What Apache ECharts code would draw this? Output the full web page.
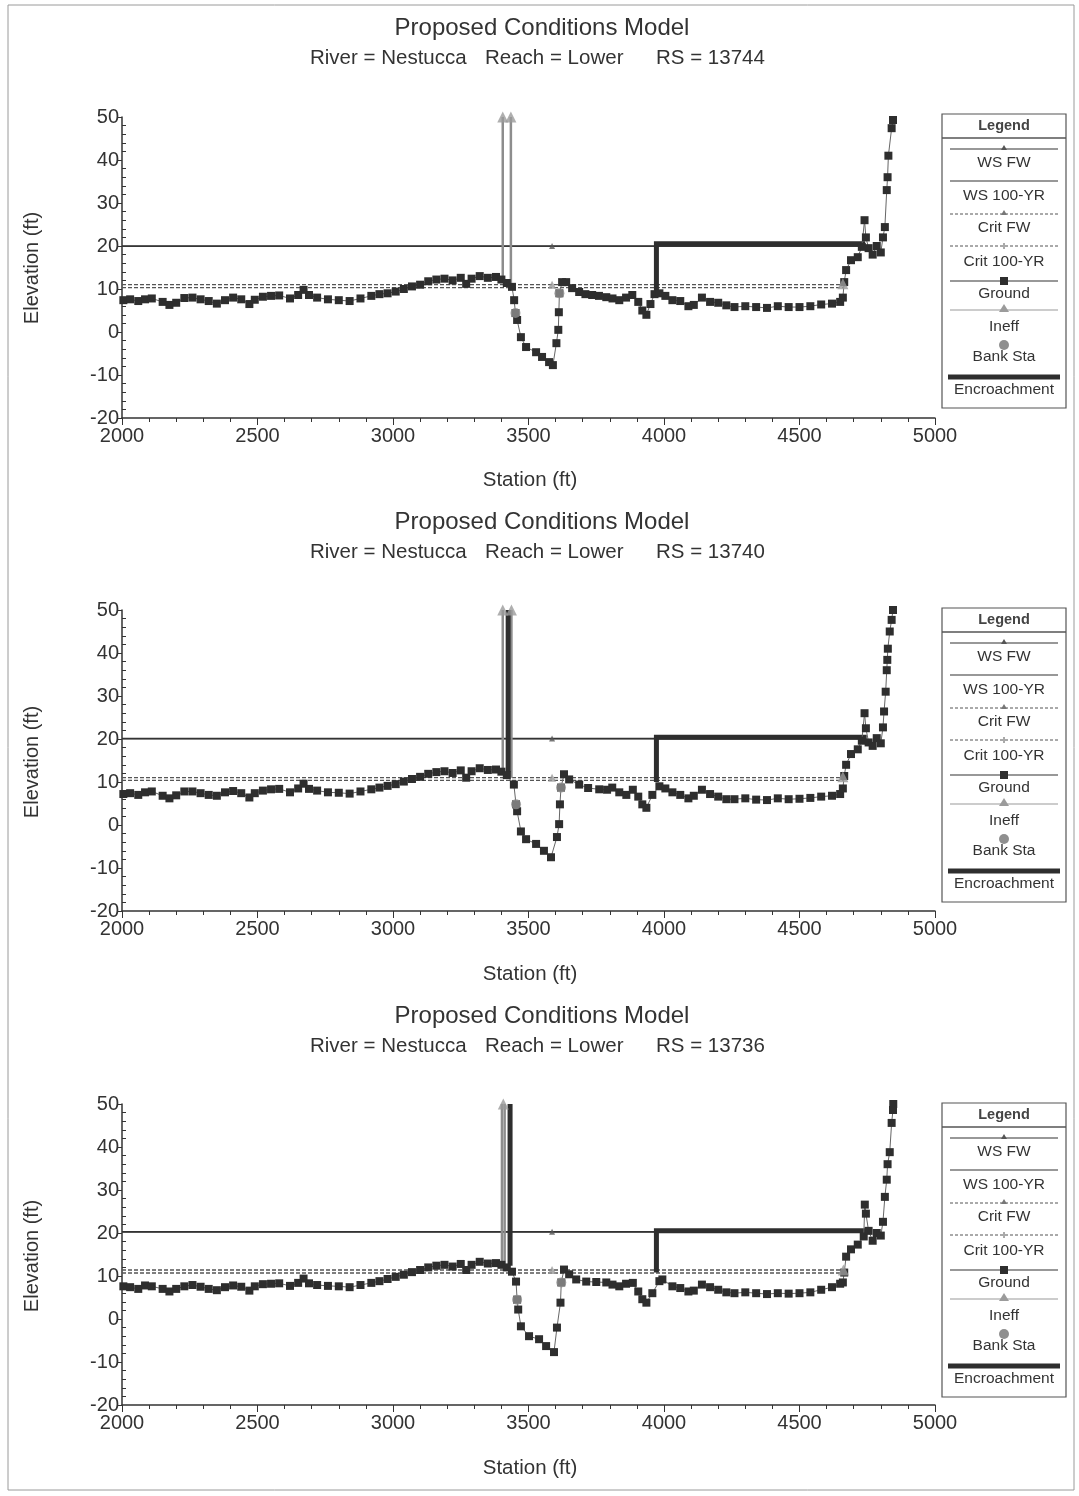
<!DOCTYPE html>
<html><head><meta charset="utf-8">
<script src="https://cdn.jsdelivr.net/npm/echarts@6/dist/echarts.min.js"></script>
<style>html,body{margin:0;padding:0;background:#fff}#c{width:1079px;height:1496px}</style>
</head><body><div id="c"></div>
<script>
// ---------- data ----------
const xMin = 2000, xMax = 5000, xStep = 500;
const yMin = -20, yMax = 50, yStep = 10;
const chartTitle = 'Proposed Conditions Model';
const riverText = 'River = Nestucca';
const reachText = 'Reach = Lower';
const rsValues = ['13744', '13740', '13736'];
const legendNames = ['WS FW', 'WS 100-YR', 'Crit FW', 'Crit 100-YR', 'Ground', 'Ineff', 'Bank Sta', 'Encroachment'];

const ground1 = [[2005,7.4],[2030,7.6],[2060,7.2],[2085,7.6],[2110,7.8],[2150,7.0],[2175,6.3],[2200,6.8],[2230,7.9],[2260,8.0],
 [2290,7.6],[2320,7.2],[2350,6.6],[2380,7.4],[2410,8.0],[2440,7.6],[2470,6.5],[2490,7.5],[2520,8.2],[2550,8.4],
 [2580,8.5],[2620,7.8],[2650,8.6],[2670,9.8],[2690,8.6],[2720,8.0],[2760,7.6],[2800,7.4],[2840,7.2],[2880,7.8],
 [2920,8.4],[2950,8.8],[2980,9.0],[3010,9.4],[3040,10.0],[3070,10.6],[3100,11.0],[3130,11.8],[3160,12.2],[3190,12.4],
 [3220,12.0],[3250,12.6],[3270,11.2],[3290,12.4],[3320,13.0],[3350,12.6],[3380,12.8],[3400,12.2],[3420,11.4],[3439,10.5],
 [3447,7.4],[3452,4.4],[3458,2.8],[3472,-1.2],[3491,-3.5],[3528,-4.7],[3550,-5.8],[3576,-7.0],[3590,-7.7],[3603,-2.6],
 [3610,0.5],[3612,4.6],[3614,9.0],[3624,11.6],[3639,11.6],[3661,10.2],[3687,9.3],[3710,8.8],[3735,8.6],[3760,8.4],[3787,8.1],
 [3810,7.8],[3835,7.4],[3860,8.0],[3883,8.6],[3905,7.0],[3920,5.0],[3935,4.0],[3950,6.5],[3965,8.8],[3983,9.0],[4005,8.4],
 [4031,7.4],[4060,7.2],[4090,6.0],[4110,6.3],[4140,8.0],[4170,7.0],[4200,6.8],[4230,6.2],[4260,5.8],[4300,6.0],
 [4340,5.8],[4380,5.6],[4420,6.0],[4460,5.8],[4500,5.8],[4540,6.0],[4580,6.4],[4620,6.6],[4650,7.0],[4660,8.0],
 [4665,11.6],[4672,14.4],[4690,16.7],[4715,17.4],[4730,19.8],[4740,26.0],[4745,22.0],[4755,19.5],[4770,18.0],[4785,20.0],
 [4800,18.5],[4808,22.0],[4815,24.4],[4822,33.0],[4825,36.0],[4828,41.0],[4840,47.4],[4845,49.3]];

const ground2 = [[2005,7.2],[2030,7.4],[2060,7.0],[2085,7.6],[2110,7.8],[2150,6.8],[2175,6.2],[2200,6.9],[2230,7.8],[2260,7.8],
 [2290,7.4],[2320,7.0],[2350,6.8],[2380,7.6],[2410,7.9],[2440,7.4],[2470,6.4],[2490,7.4],[2520,8.0],[2550,8.3],
 [2580,8.4],[2620,7.6],[2650,8.5],[2670,9.6],[2690,8.4],[2720,8.0],[2760,7.6],[2800,7.5],[2840,7.3],[2880,7.8],
 [2920,8.3],[2950,8.7],[2980,9.1],[3010,9.5],[3040,10.1],[3070,10.7],[3100,11.2],[3130,11.9],[3160,12.3],[3190,12.5],
 [3220,12.1],[3250,12.7],[3270,11.0],[3290,12.5],[3320,13.2],[3350,12.8],[3380,12.9],[3400,12.4],[3420,11.6],[3446,9.4],
 [3454,4.8],[3458,3.2],[3472,-1.5],[3491,-3.3],[3528,-4.4],[3557,-6.0],[3583,-7.5],[3605,-2.8],[3613,0.2],[3616,4.8],
 [3620,8.7],[3631,11.8],[3650,10.6],[3687,9.4],[3720,8.6],[3761,8.3],[3790,8.2],[3809,8.7],[3835,7.6],[3861,7.0],
 [3885,8.2],[3905,6.6],[3920,4.8],[3935,4.0],[3957,7.0],[3983,9.0],[4005,8.5],[4031,7.6],[4060,7.0],[4090,6.2],
 [4110,6.8],[4140,8.2],[4170,7.2],[4200,6.6],[4230,6.0],[4260,6.0],[4300,6.2],[4340,5.9],[4380,5.8],[4420,6.2],
 [4460,6.0],[4500,6.1],[4540,6.3],[4580,6.6],[4620,6.8],[4650,7.2],[4660,8.5],[4665,11.4],[4672,14.0],[4690,16.5],
 [4715,17.6],[4730,19.6],[4740,26.0],[4745,22.5],[4755,19.2],[4770,18.4],[4785,20.2],[4800,19.0],[4808,22.7],[4812,26.4],
 [4818,31.0],[4822,36.0],[4824,38.4],[4826,41.0],[4833,45.0],[4840,47.7],[4845,50.0]];

const ground3 = [[2005,7.6],[2030,7.4],[2060,7.0],[2085,7.8],[2110,7.6],[2150,7.0],[2175,6.4],[2200,7.0],[2230,7.6],[2260,7.9],
 [2290,7.5],[2320,7.0],[2350,6.7],[2380,7.4],[2410,7.8],[2440,7.5],[2470,6.6],[2490,7.6],[2520,8.1],[2550,8.2],
 [2580,8.3],[2620,7.7],[2650,8.4],[2670,9.4],[2690,8.3],[2720,7.9],[2760,7.7],[2800,7.6],[2840,7.4],[2880,7.9],
 [2920,8.4],[2950,8.8],[2980,9.3],[3010,9.8],[3040,10.3],[3070,10.9],[3100,11.4],[3130,12.0],[3160,12.4],[3190,12.6],
 [3220,12.2],[3250,12.8],[3270,11.4],[3290,12.6],[3320,13.3],[3350,12.9],[3380,13.0],[3400,12.6],[3420,12.0],[3439,11.0],
 [3454,8.7],[3458,4.5],[3462,2.2],[3472,-1.7],[3502,-4.0],[3539,-4.7],[3565,-6.3],[3594,-7.7],[3605,-2.0],[3618,3.8],
 [3621,8.5],[3631,11.5],[3650,10.4],[3676,9.2],[3713,8.7],[3750,8.6],[3787,8.5],[3810,8.0],[3835,7.6],[3860,8.2],
 [3885,8.4],[3905,6.4],[3920,4.6],[3935,3.8],[3957,6.0],[3983,8.8],[3994,9.2],[4031,7.6],[4060,7.2],[4090,6.4],
 [4110,6.6],[4140,8.0],[4170,7.4],[4200,6.8],[4230,6.2],[4260,6.0],[4300,6.2],[4340,6.0],[4380,5.8],[4420,6.0],
 [4460,5.9],[4500,6.0],[4540,6.2],[4580,6.8],[4620,7.4],[4650,8.2],[4660,8.5],[4665,10.8],[4672,14.5],[4690,16.2],
 [4715,17.3],[4737,19.2],[4741,26.6],[4745,24.5],[4755,20.5],[4770,18.2],[4785,20.0],[4800,19.4],[4808,22.6],[4815,28.4],
 [4822,32.4],[4825,36.0],[4833,38.8],[4840,45.6],[4845,48.6],[4846,50.0]];

const wsFWElev = [20.0, 20.1, 20.3];
const ws100Elev = [19.9, 20.0, 20.2];
const wsEnd = [4735, 4738, 4740];
const critFWElev = [11.0, 11.0, 11.4];
const crit100Elev = [10.3, 10.4, 10.7];
const critEnd = [4660, 4660, 4662];
const markerStation = 3587;
const bankSta1 = [[3452,4.4],[3614,9.0]];
const bankSta2 = [[3454,4.8],[3620,8.7]];
const bankSta3 = [[3458,4.5],[3621,8.5]];
const encroachRight1 = [[3972,9.0],[3972,20.5],[4742,20.5]];
const encroachRight2 = [[3972,10.0],[3972,20.4],[4748,20.4]];
const encroachRight3 = [[3972,10.8],[3972,20.5],[4750,20.5]];
const encroachLeft1 = [];
const encroachLeft2 = [[3425,12.3],[3425,50]];
const encroachLeft3 = [[3432,12.4],[3432,50]];
const ineffLines1 = [[[3405,12.4],[3405,50]],[[3435,11.0],[3435,50]]];
const ineffLines2 = [[[3405,12.4],[3405,50]],[[3437,11.0],[3437,50]]];
const ineffLines3 = [[[3402,12.5],[3402,50]],[[3412,12.3],[3412,50]]];
const ineffPoints1 = [[3405,50],[3435,50],[4660,11.2]];
const ineffPoints2 = [[3405,50],[3437,50],[4660,11.2]];
const ineffPoints3 = [[3407,50],[4662,11.4]];

const grounds = [ground1, ground2, ground3];
const banks = [bankSta1, bankSta2, bankSta3];
const encR = [encroachRight1, encroachRight2, encroachRight3];
const encL = [encroachLeft1, encroachLeft2, encroachLeft3];
const ineffL = [ineffLines1, ineffLines2, ineffLines3];
const ineffP = [ineffPoints1, ineffPoints2, ineffPoints3];

// ---------- layout ----------
const FONT = '"Liberation Sans", Arial, sans-serif';
const gridTops = [117, 610, 1104];
const panelOffsets = [0, 494, 988];
const legendTops = [114, 608, 1103];
const DARK = '#2e2e2e', GREY = '#8d8d8d';

const grids = [], xAxes = [], yAxes = [], series = [], graphics = [];
graphics.push({type:'rect', shape:{x:8, y:5, width:1066, height:1485}, style:{fill:'none', stroke:'#9a9a9a', lineWidth:1}});

for (let i = 0; i < 3; i++) {
  grids.push({left:122, right:144, top:gridTops[i], height:301});
  xAxes.push({type:'value', gridIndex:i, min:xMin, max:xMax, interval:xStep,
    axisLine:{show:true, onZero:false, lineStyle:{color:'#333', width:1.5}},
    axisTick:{show:true, length:7, lineStyle:{color:'#333'}},
    minorTick:{show:true, splitNumber:5, length:4, lineStyle:{color:'#333'}},
    splitLine:{show:false},
    axisLabel:{color:'#333', fontSize:20, fontFamily:FONT, margin:8, formatter: v => String(v)}});
  yAxes.push({type:'value', gridIndex:i, min:yMin, max:yMax, interval:yStep, position:'left',
    axisLine:{show:true, onZero:false, lineStyle:{color:'#333', width:1.5}},
    axisTick:{show:true, length:5, lineStyle:{color:'#333'}},
    splitLine:{show:false},
    axisLabel:{color:'#333', fontSize:20, fontFamily:FONT, margin:3, formatter: v => String(v)}});
  yAxes.push({type:'value', gridIndex:i, min:yMin, max:yMax, interval:yStep, position:'left', offset:0,
    axisLine:{show:false}, axisLabel:{show:false},
    axisTick:{show:false, inside:true},
    minorTick:{show:true, splitNumber:5, length:4, lineStyle:{color:'#333'}},
    splitLine:{show:false}});

  const xi = i, yi = 2*i;
  const base = {xAxisIndex:xi, yAxisIndex:yi, animation:false, silent:true};
  series.push(Object.assign({type:'line', data:[[xMin, ws100Elev[i]],[wsEnd[i], ws100Elev[i]]], symbol:'none',
    lineStyle:{color:'#444', width:1.2}, z:3}, base));
  series.push(Object.assign({type:'line', data:[[xMin, wsFWElev[i]],[wsEnd[i], wsFWElev[i]]], symbol:'none',
    lineStyle:{color:'#333', width:1.4}, z:3}, base));
  series.push(Object.assign({type:'scatter', data:[[markerStation, wsFWElev[i]]], symbol:'triangle', symbolSize:6,
    itemStyle:{color:'#555'}, z:4}, base));
  series.push(Object.assign({type:'line', data:[[xMin, critFWElev[i]],[critEnd[i], critFWElev[i]]], symbol:'none',
    lineStyle:{color:'#555', width:1.3, type:[4,2]}, z:3}, base));
  series.push(Object.assign({type:'line', data:[[xMin, crit100Elev[i]],[critEnd[i], crit100Elev[i]]], symbol:'none',
    lineStyle:{color:'#555', width:1.3, type:[4,2]}, z:3}, base));
  series.push(Object.assign({type:'scatter', data:[[markerStation, critFWElev[i]]], symbol:'triangle', symbolSize:8,
    itemStyle:{color:'#9a9a9a'}, z:4}, base));
  ineffL[i].forEach(seg => series.push(Object.assign({type:'line', data:seg, symbol:'none',
    lineStyle:{color:GREY, width:2.5}, z:5}, base)));
  if (encL[i].length) series.push(Object.assign({type:'line', data:encL[i], symbol:'none',
    lineStyle:{color:DARK, width:5}, z:6}, base));
  series.push(Object.assign({type:'line', data:encR[i], symbol:'none',
    lineStyle:{color:DARK, width:5, join:'miter'}, z:6}, base));
  series.push(Object.assign({type:'line', data:grounds[i], symbol:'rect', symbolSize:8, showAllSymbol:true,
    lineStyle:{color:'#666', width:1}, itemStyle:{color:DARK}, z:7}, base));
  series.push(Object.assign({type:'scatter', data:ineffP[i], symbol:'triangle', symbolSize:11,
    itemStyle:{color:'#9b9b9b'}, z:8, clip:false}, base));
  series.push(Object.assign({type:'scatter', data:banks[i], symbol:'circle', symbolSize:10,
    itemStyle:{color:'#8f8f8f'}, z:9}, base));

  const o = panelOffsets[i];
  graphics.push({type:'text', x:542, y:28+o, style:{text:chartTitle, font:'24px '+FONT, fill:'#333', align:'center', verticalAlign:'middle'}});
  graphics.push({type:'text', x:310, y:58+o, style:{text:riverText, font:'20.5px '+FONT, fill:'#333', align:'left', verticalAlign:'middle'}});
  graphics.push({type:'text', x:485, y:58+o, style:{text:reachText, font:'20.5px '+FONT, fill:'#333', align:'left', verticalAlign:'middle'}});
  graphics.push({type:'text', x:656, y:58+o, style:{text:'RS = ' + rsValues[i], font:'20.5px '+FONT, fill:'#333', align:'left', verticalAlign:'middle'}});
  graphics.push({type:'text', x:530, y:480+o, style:{text:'Station (ft)', font:'20.5px '+FONT, fill:'#333', align:'center', verticalAlign:'middle'}});
  graphics.push({type:'text', x:32, y:268+o, rotation:Math.PI/2, style:{text:'Elevation (ft)', font:'20px '+FONT, fill:'#333', align:'center', verticalAlign:'middle'}});

  const T = legendTops[i], L = 942, W = 124, H = 294;
  const lx1 = 950, lx2 = 1058, cx = 1004;
  const leg = [];
  leg.push({type:'rect', shape:{x:L, y:T, width:W, height:H}, style:{fill:'#fff', stroke:'#555', lineWidth:1.2}});
  leg.push({type:'text', x:cx, y:T+12, style:{text:'Legend', font:'bold 14.5px '+FONT, fill:'#444', align:'center', verticalAlign:'middle'}});
  leg.push({type:'line', shape:{x1:L, y1:T+24, x2:L+W, y2:T+24}, style:{stroke:'#555', lineWidth:1.5}});
  const rows = [35, 67, 100, 132, 167, 196, 231, 263];
  const textRows = [49, 82, 114, 148, 180, 213, 243, 276];
  leg.push({type:'line', shape:{x1:lx1,y1:T+rows[0],x2:lx2,y2:T+rows[0]}, style:{stroke:'#333', lineWidth:1.2}});
  leg.push({type:'polygon', shape:{points:[[cx,T+rows[0]-4],[cx-3,T+rows[0]+1],[cx+3,T+rows[0]+1]]}, style:{fill:'#555'}});
  leg.push({type:'line', shape:{x1:lx1,y1:T+rows[1],x2:lx2,y2:T+rows[1]}, style:{stroke:'#333', lineWidth:1.2}});
  leg.push({type:'line', shape:{x1:lx1,y1:T+rows[2],x2:lx2,y2:T+rows[2]}, style:{stroke:'#555', lineWidth:1, lineDash:[3,2]}});
  leg.push({type:'polygon', shape:{points:[[cx,T+rows[2]-4],[cx-3,T+rows[2]+1],[cx+3,T+rows[2]+1]]}, style:{fill:'#777'}});
  leg.push({type:'line', shape:{x1:lx1,y1:T+rows[3],x2:lx2,y2:T+rows[3]}, style:{stroke:'#555', lineWidth:1, lineDash:[3,2]}});
  leg.push({type:'line', shape:{x1:cx,y1:T+rows[3]-3,x2:cx,y2:T+rows[3]+3}, style:{stroke:'#555', lineWidth:1}});
  leg.push({type:'line', shape:{x1:lx1,y1:T+rows[4],x2:lx2,y2:T+rows[4]}, style:{stroke:'#333', lineWidth:1.2}});
  leg.push({type:'rect', shape:{x:cx-4,y:T+rows[4]-4,width:8,height:8}, style:{fill:DARK}});
  leg.push({type:'line', shape:{x1:lx1,y1:T+rows[5],x2:lx2,y2:T+rows[5]}, style:{stroke:'#999', lineWidth:1.2}});
  leg.push({type:'polygon', shape:{points:[[cx,T+rows[5]-6],[cx-5,T+rows[5]+2],[cx+5,T+rows[5]+2]]}, style:{fill:'#9b9b9b'}});
  leg.push({type:'circle', shape:{cx:cx, cy:T+rows[6], r:5}, style:{fill:'#8f8f8f'}});
  leg.push({type:'line', shape:{x1:lx1-2,y1:T+rows[7],x2:lx2+2,y2:T+rows[7]}, style:{stroke:DARK, lineWidth:5}});
  legendNames.forEach((n, k) => leg.push({type:'text', x:cx, y:T+textRows[k], style:{text:n, font:'15.5px '+FONT, fill:'#333', align:'center', verticalAlign:'middle'}}));
  graphics.push({type:'group', children:leg});
}

const chart = echarts.init(document.getElementById('c'), null, {renderer:'canvas'});
chart.setOption({
  backgroundColor:'#fff',
  animation:false,
  grid:grids, xAxis:xAxes, yAxis:yAxes, series:series, graphic:graphics
});
</script></body></html>
